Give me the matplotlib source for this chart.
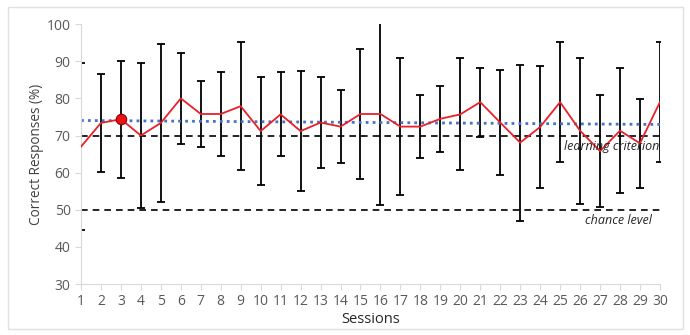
import numpy as np
import matplotlib.pyplot as plt

# mean % correct and SD per session
sessions = np.arange(1, 31)
means = [67.0, 73.4, 74.4, 70.0, 73.4, 80.0, 75.8, 75.8, 77.9, 71.2,
         75.7, 71.2, 73.5, 72.4, 75.8, 75.8, 72.4, 72.4, 74.5, 75.7,
         79.0, 73.5, 68.1, 72.3, 79.0, 71.3, 65.8, 71.3, 67.9, 79.0]
errs = [22.4, 13.3, 15.8, 19.4, 21.2, 12.2, 8.8, 11.3, 17.2, 14.5,
        11.3, 16.1, 12.2, 9.8, 17.4, 24.4, 18.5, 8.4, 8.85, 15.1,
        9.3, 14.1, 21.0, 16.4, 16.1, 19.65, 15.05, 16.9, 12.0, 16.1]
highlight = 3            # session marked with a dot
criterion = 70
chance = 50

plt.rcParams['font.family'] = ['Open Sans', 'DejaVu Sans']

fig = plt.figure(figsize=(6.9, 3.35), dpi=100)
ax = fig.add_axes([0.1174, 0.152, 0.839, 0.776])

# border round the whole chart
fig.patches.append(plt.Rectangle((0.011, 0.018), 0.979, 0.962, transform=fig.transFigure,
                                 fill=False, edgecolor='#e0e0e0', linewidth=1))

ax.errorbar(sessions, means, yerr=errs, fmt='none', ecolor='black',
            elinewidth=1.3, capsize=3, capthick=1.3, zorder=2)
ax.plot(sessions, means, color='#e8202a', linewidth=1.3, zorder=3)
ax.plot(highlight, means[highlight - 1], 'o', color='#ee1111', markersize=7.5,
        markeredgecolor='#8b0000', markeredgewidth=0.8, zorder=4)

# linear trend line
k, b = np.polyfit(sessions, means, 1)
ax.plot(sessions, k * sessions + b, color='#4472c4', linestyle=(0, (1, 1.5)),
        linewidth=2, zorder=2.5)

ax.axhline(criterion, color='black', linestyle=(0, (4, 3)), linewidth=1.2, zorder=1)
ax.axhline(chance, color='black', linestyle=(0, (4, 3)), linewidth=1.2, zorder=1)
ax.text(29.95, criterion - 1.2, 'learning criterion', style='italic', fontsize=9,
        color='#262626', ha='right', va='top')
ax.text(29.6, chance - 1.2, 'chance level', style='italic', fontsize=9,
        color='#262626', ha='right', va='top')

ax.set_xlim(1, 30)
ax.set_ylim(30, 100)
ax.set_xticks(sessions)
ax.set_yticks(range(30, 101, 10))
for side in ['top', 'right']:
    ax.spines[side].set_visible(False)
for side in ['left', 'bottom']:
    ax.spines[side].set_color('#d9d9d9')
ax.tick_params(colors='#d9d9d9', labelcolor='#595959', labelsize=10, length=4)
ax.set_ylabel('Correct Responses (%)', fontsize=9.8, color='#404040', labelpad=2)
ax.set_xlabel('Sessions', fontsize=10.5, color='#262626', labelpad=2)

fig.savefig('out.png', dpi=100)
